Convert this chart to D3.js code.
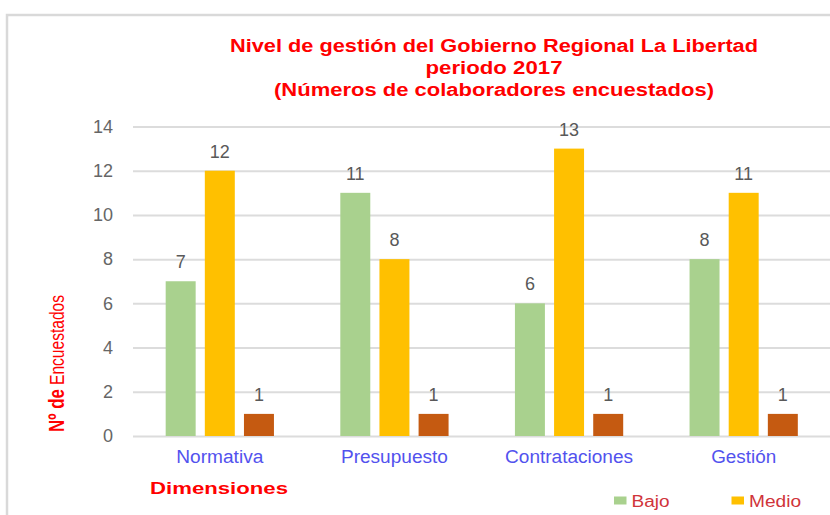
<!DOCTYPE html>
<html>
<head>
<meta charset="utf-8">
<script src="https://cdn.jsdelivr.net/npm/d3@7"></script>
<style>
  body { margin: 0; background: #fff; }
  text { font-family: "Liberation Sans", Arial, sans-serif; }
</style>
</head>
<body>
<div id="chart"></div>
<script>
// data
var categories = ["Normativa", "Presupuesto", "Contrataciones", "Gestión"];
var series = ["Bajo", "Medio", "Alto"];
var bajo = [7, 11, 6, 8];
var medio = [12, 8, 13, 11];
var alto = [1, 1, 1, 1];
var yTicks = [0, 2, 4, 6, 8, 10, 12, 14];
var titleLines = ["Nivel de gestión del Gobierno Regional La Libertad", "periodo 2017", "(Números de colaboradores encuestados)"];

var colors = { "Bajo": "#a9d18e", "Medio": "#ffc000", "Alto": "#c55a11" };

var w = 830, h = 515;

var svg = d3.select("#chart").append("svg")
            .attr("width", w)
            .attr("height", h);

// frame of the pasted picture
svg.append("path")
   .attr("d", "M7,515 V15 H830")
   .attr("fill", "none")
   .attr("stroke", "#d9d9d9")
   .attr("stroke-width", 2.5);

var scale_X = d3.scaleBand()
                .domain(categories)
                .range([132.5, 831])
                .paddingInner(0.38)
                .paddingOuter(0.19);

var scale_S = d3.scaleBand()
                .domain(series)
                .range([0, scale_X.bandwidth()])
                .paddingInner(0.234);

var scale_Y = d3.scaleLinear()
                .domain([0, 14])
                .range([436, 126.5]);

// grid + y labels
var yAxis = d3.axisLeft(scale_Y)
              .tickValues(yTicks)
              .tickSize(-(830 - 133))
              .tickPadding(20);

var gy = svg.append("g")
            .attr("transform", "translate(133,0)")
            .call(yAxis);
gy.select(".domain").remove();
gy.selectAll(".tick line")
  .attr("stroke", "#dcdcdc")
  .attr("stroke-width", 2);
gy.selectAll(".tick text")
  .attr("fill", "#666")
  .attr("font-size", 18);

var table = categories.map(function(c, i) {
  return { cat: c, values: [
    { key: "Bajo", value: bajo[i] },
    { key: "Medio", value: medio[i] },
    { key: "Alto", value: alto[i] }
  ] };
});

var groups = svg.selectAll(".grp")
                .data(table)
                .enter().append("g")
                .attr("class", "grp")
                .attr("transform", function(d) { return "translate(" + scale_X(d.cat) + ",0)"; });

groups.selectAll("rect")
      .data(function(d) { return d.values; })
      .enter().append("rect")
      .attr("x", function(d) { return scale_S(d.key); })
      .attr("y", function(d) { return scale_Y(d.value); })
      .attr("width", scale_S.bandwidth())
      .attr("height", function(d) { return scale_Y(0) - scale_Y(d.value); })
      .attr("fill", function(d) { return colors[d.key]; });

groups.selectAll(".val")
      .data(function(d) { return d.values; })
      .enter().append("text")
      .attr("class", "val")
      .attr("x", function(d) { return scale_S(d.key) + scale_S.bandwidth() / 2; })
      .attr("y", function(d) { return scale_Y(d.value) - 13; })
      .attr("text-anchor", "middle")
      .attr("fill", "#595959")
      .attr("font-size", 18)
      .text(function(d) { return d.value; });

// category labels
var catWidths = { "Normativa": 87, "Presupuesto": 107, "Contrataciones": 128, "Gestión": 65 };
svg.selectAll(".cat")
   .data(categories)
   .enter().append("text")
   .attr("class", "cat")
   .attr("x", function(d) { return scale_X(d) + scale_X.bandwidth() / 2; })
   .attr("y", 463)
   .attr("text-anchor", "middle")
   .attr("fill", "#5252ee")
   .attr("font-size", 18)
   .attr("textLength", function(d) { return catWidths[d]; })
   .attr("lengthAdjust", "spacingAndGlyphs")
   .text(function(d) { return d; });

// title
var titleWidths = [528, 137, 440];
svg.selectAll(".title")
   .data(titleLines)
   .enter().append("text")
   .attr("class", "title")
   .attr("x", 494)
   .attr("y", function(d, i) { return 51.5 + i * 22.3; })
   .attr("text-anchor", "middle")
   .attr("fill", "#ff0000")
   .attr("font-size", 17.5)
   .attr("font-weight", "bold")
   .attr("textLength", function(d, i) { return titleWidths[i]; })
   .attr("lengthAdjust", "spacingAndGlyphs")
   .text(function(d) { return d; });

// y axis title, two parts
svg.append("text")
   .attr("transform", "translate(64,432) rotate(-90)")
   .attr("fill", "#ff0000")
   .attr("font-size", 22)
   .attr("font-weight", "bold")
   .attr("textLength", 43)
   .attr("lengthAdjust", "spacingAndGlyphs")
   .text("Nº de");
svg.append("text")
   .attr("transform", "translate(64,385) rotate(-90)")
   .attr("fill", "#ff0000")
   .attr("font-size", 21)
   .attr("textLength", 90)
   .attr("lengthAdjust", "spacingAndGlyphs")
   .text("Encuestados");

// x axis title
svg.append("text")
   .attr("x", 150)
   .attr("y", 494)
   .attr("fill", "#ff0000")
   .attr("font-size", 17)
   .attr("font-weight", "bold")
   .attr("textLength", 138)
   .attr("lengthAdjust", "spacingAndGlyphs")
   .text("Dimensiones");

// legend (only the entries that fit in the picture)
var legendItems = [
  { key: series[0], x: 614, len: 38 },
  { key: series[1], x: 731.5, len: 52 }
];
var lg = svg.selectAll(".lg")
            .data(legendItems)
            .enter().append("g")
            .attr("class", "lg")
            .attr("transform", function(d) { return "translate(" + d.x + ",0)"; });
lg.append("rect")
  .attr("x", 0)
  .attr("y", 496.5)
  .attr("width", 12.5)
  .attr("height", 8)
  .attr("fill", function(d) { return colors[d.key]; });
lg.append("text")
  .attr("x", 17.5)
  .attr("y", 506.5)
  .attr("fill", "#d0343a")
  .attr("font-size", 16)
  .attr("textLength", function(d) { return d.len; })
  .attr("lengthAdjust", "spacingAndGlyphs")
  .text(function(d) { return d.key; });
</script>
</body>
</html>
